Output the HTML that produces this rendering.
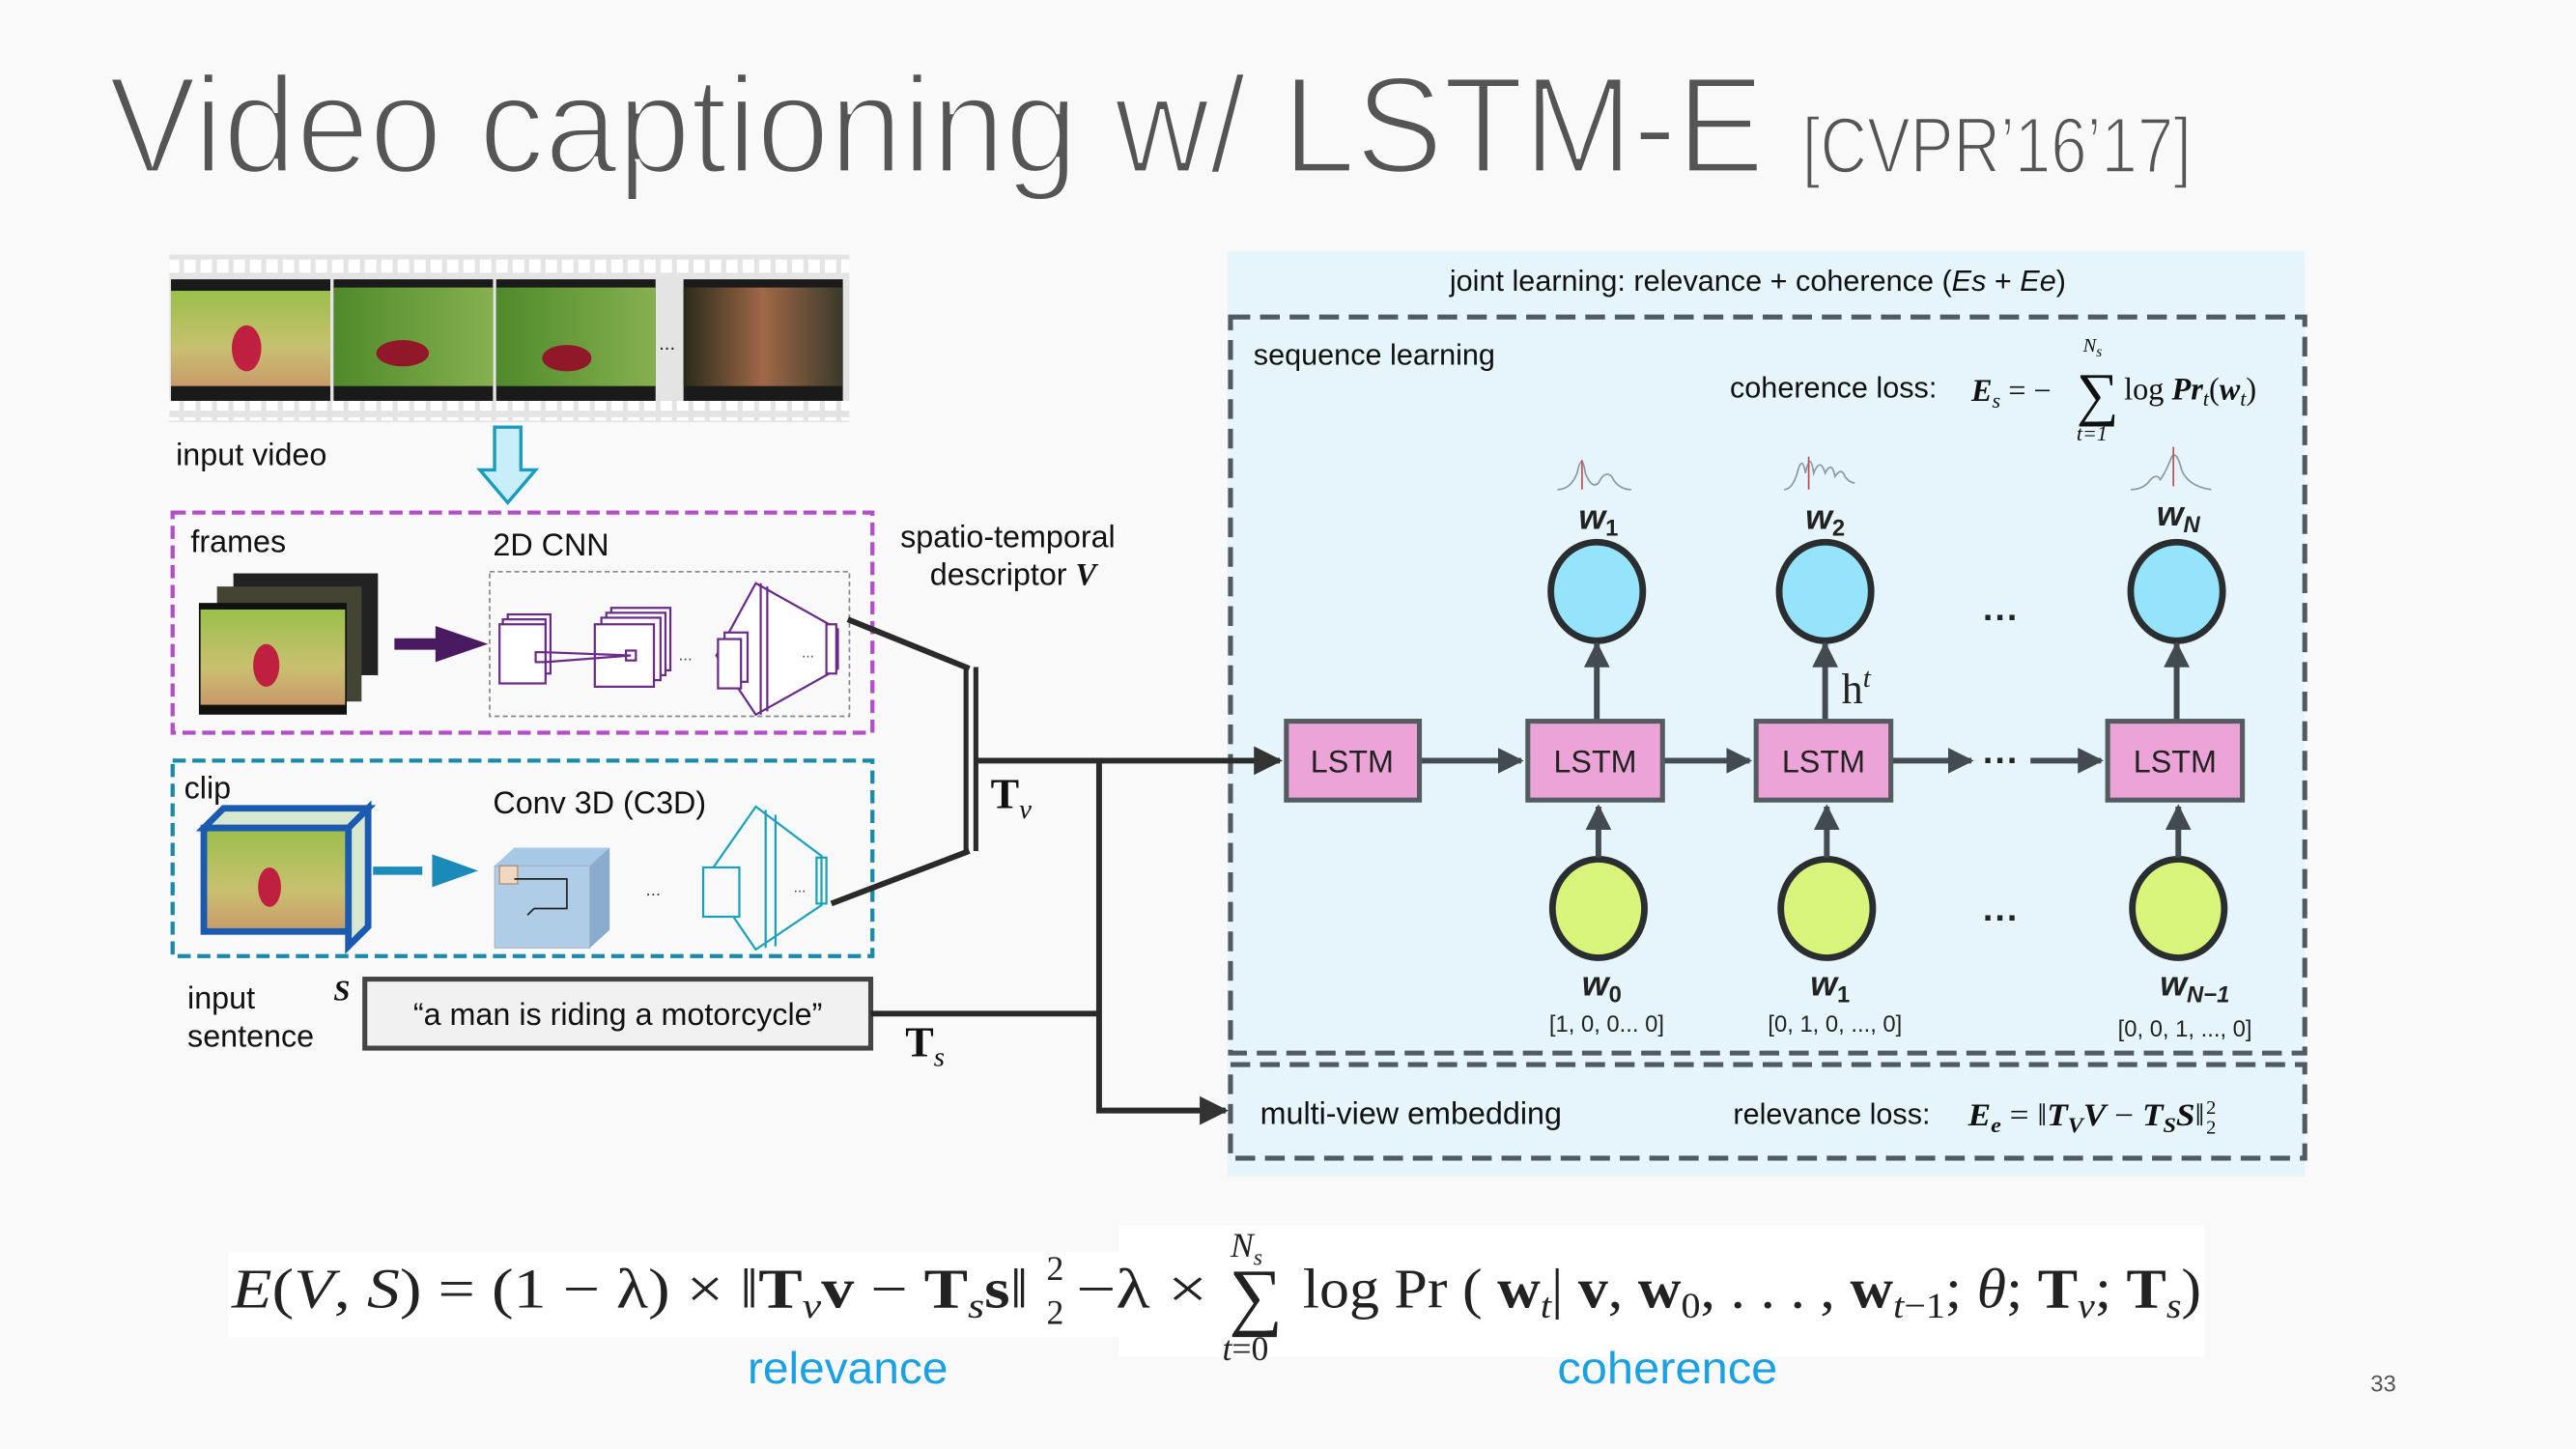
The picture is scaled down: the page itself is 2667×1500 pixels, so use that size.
<!DOCTYPE html>
<html><head><meta charset="utf-8"><style>
html,body{margin:0;padding:0;background:#f9f9f9;}
svg{display:block;}
text{font-family:"Liberation Sans",sans-serif;}
.s{font-family:"Liberation Serif",serif;}
</style></head><body>
<svg width="2667" height="1500" viewBox="0 0 1568 882" xmlns="http://www.w3.org/2000/svg">
<defs>
<linearGradient id="ph" x1="0" y1="0" x2="0" y2="1"><stop offset="0" stop-color="#9bbf4a"/><stop offset="0.6" stop-color="#c8c070"/><stop offset="1" stop-color="#c89a6a"/></linearGradient>
<linearGradient id="ph2" x1="0" y1="0" x2="1" y2="0"><stop offset="0" stop-color="#4f8a2a"/><stop offset="1" stop-color="#86b050"/></linearGradient>
<linearGradient id="face" x1="0" y1="0" x2="1" y2="0"><stop offset="0" stop-color="#2a2a1a"/><stop offset="0.5" stop-color="#a06848"/><stop offset="1" stop-color="#3a3a2a"/></linearGradient>
<marker id="a" viewBox="0 0 10 10" refX="9" refY="5" markerWidth="5" markerHeight="5" orient="auto"><path d="M0,0L10,5L0,10z" fill="#333"/></marker>
<marker id="g" viewBox="0 0 10 10" refX="9" refY="5" markerWidth="4.5" markerHeight="4.5" orient="auto"><path d="M0,0L10,5L0,10z" fill="#444b50"/></marker>
<pattern id="perf" width="10" height="12" patternUnits="userSpaceOnUse"><rect x="2" y="2" width="7" height="8" fill="#fff"/></pattern>
</defs>
<rect width="1568" height="882" fill="#f9f9f9"/>
<text x="66" y="105" font-size="84" fill="#555" stroke="#f9f9f9" stroke-width="2.6" textLength="1008" lengthAdjust="spacingAndGlyphs">Video captioning w/ LSTM-E</text>
<text x="1097" y="105" font-size="48" fill="#555" stroke="#f9f9f9" stroke-width="1.4" textLength="237" lengthAdjust="spacingAndGlyphs">[CVPR’16’17]</text>

<rect x="103" y="155" width="414" height="102" fill="#e4e4e4"/>
<rect x="103" y="156" width="414" height="12" fill="url(#perf)"/>
<rect x="103" y="244" width="414" height="12" fill="url(#perf)"/>
<rect x="104" y="170" width="97" height="74" fill="#1a1a1a"/><rect x="104" y="177" width="97" height="58" fill="url(#ph)"/>
<ellipse cx="150" cy="212" rx="9" ry="14" fill="#c02040"/>
<rect x="203" y="170" width="97" height="74" fill="#1a1a1a"/><rect x="203" y="175" width="97" height="60" fill="url(#ph2)"/>
<ellipse cx="245" cy="215" rx="16" ry="8" fill="#901828"/>
<rect x="302" y="170" width="97" height="74" fill="#1a1a1a"/><rect x="302" y="175" width="97" height="60" fill="url(#ph2)"/>
<ellipse cx="345" cy="218" rx="15" ry="8" fill="#901828"/>
<text x="401" y="213" font-size="12" fill="#222">...</text>
<rect x="416" y="170" width="97" height="74" fill="#1a1a1a"/><rect x="416" y="175" width="97" height="60" fill="url(#face)"/>
<text x="107" y="283" font-size="19" fill="#111">input video</text>
<path d="M301,260h16v26h9l-17,20l-17,-20h9z" fill="#c8eefa" stroke="#1a9bc0" stroke-width="2"/>

<rect x="105" y="312" width="426" height="134" fill="none" stroke="#b44ec8" stroke-width="2.5" stroke-dasharray="8,4"/>
<text x="116" y="336" font-size="19" fill="#111">frames</text>
<text x="300" y="338" font-size="19" fill="#111">2D CNN</text>
<rect x="142" y="349" width="88" height="62" fill="#222"/>
<rect x="132" y="357" width="88" height="70" fill="#443"/>
<rect x="121" y="367" width="90" height="68" fill="#111"/><rect x="122" y="371" width="88" height="58" fill="url(#ph)"/>
<ellipse cx="162" cy="405" rx="8" ry="13" fill="#c02040"/>
<path d="M240,392h28" stroke="#4a1a60" stroke-width="7"/><path d="M265,381l32,11l-32,11z" fill="#4a1a60"/>
<rect x="298" y="348" width="219" height="88" fill="none" stroke="#888" stroke-width="1" stroke-dasharray="3,2"/>
<g fill="#fff" stroke="#6a2a88" stroke-width="1.3">
<rect x="309" y="374" width="26" height="36"/><rect x="306" y="377" width="26" height="36"/><rect x="304" y="380" width="28" height="36"/>
<rect x="326" y="397" width="6" height="6"/>
<rect x="372" y="370" width="36" height="38"/><rect x="369" y="373" width="36" height="38"/><rect x="366" y="376" width="36" height="38"/><rect x="362" y="380" width="36" height="38"/>
<rect x="381" y="396" width="6" height="6"/>
<path d="M332,397L384,399L332,403" fill="none"/>
<path d="M460,355l50,28v24l-50,28l-24,-36z"/><path d="M463,355v80M467,357v76"/>
<rect x="441" y="385" width="14" height="30"/><rect x="437" y="389" width="14" height="30"/>
<rect x="503" y="380" width="6" height="30"/>
</g>
<text x="413" y="402" font-size="10" fill="#444">...</text><text x="488" y="400" font-size="9" fill="#444">...</text>

<rect x="105" y="463" width="426" height="119" fill="none" stroke="#1a8aa8" stroke-width="2.5" stroke-dasharray="8,4"/>
<text x="112" y="486" font-size="19" fill="#111">clip</text>
<text x="300" y="495" font-size="19" fill="#111">Conv 3D (C3D)</text>
<path d="M124,504l12,-12h88l-12,12z M212,504l12,-12v72l-12,12z" fill="#d8e8d0" stroke="#1a5ab0" stroke-width="4"/>
<rect x="124" y="504" width="88" height="63" fill="url(#ph)" stroke="#1a5ab0" stroke-width="4"/>
<ellipse cx="164" cy="540" rx="7" ry="12" fill="#c02040"/>
<path d="M227,530h30" stroke="#1a8ab8" stroke-width="5"/><path d="M263,520l28,10l-28,10z" fill="#1a8ab8"/>
<path d="M301,527l12,-11h58v50l-12,11h-58z" fill="#a8c8e8"/><path d="M359,527l12,-11v50l-12,11z" fill="#8aaace"/>
<rect x="301" y="527" width="58" height="50" fill="#b0cde8" stroke="#9ab" stroke-width="0.5"/>
<rect x="304" y="527" width="11" height="11" fill="#f0d8c0" stroke="#a86" stroke-width="0.7"/>
<path d="M313,535h32v18h-20M325,553l-4,4" fill="none" stroke="#222" stroke-width="1"/>
<text x="393" y="545" font-size="11" fill="#444">...</text>
<g fill="none" stroke="#1aa0b8" stroke-width="1.3">
<path d="M460,491l40,30v30l-40,27l-30,-44z"/><path d="M466,493v84M472,496v80"/>
<rect x="428" y="528" width="22" height="30" fill="#f9f9f9"/><rect x="497" y="522" width="6" height="28"/>
</g>
<text x="483" y="543" font-size="9" fill="#444">...</text>

<text x="548" y="333" font-size="19" fill="#111">spatio-temporal</text>
<text x="566" y="356" font-size="19" fill="#111">descriptor <tspan class="s" font-style="italic" font-weight="bold">V</tspan></text>

<text x="114" y="614" font-size="19" fill="#111">input</text>
<text x="114" y="637" font-size="19" fill="#111">sentence</text>
<text x="203" y="609" font-size="18" fill="#111" class="s" font-style="italic" font-weight="bold">S</text>
<rect x="222" y="596" width="308" height="42" fill="#f1f1f1" stroke="#444" stroke-width="3"/>
<text x="376" y="624" font-size="19" fill="#111" text-anchor="middle">“a man is riding a motorcycle”</text>

<rect x="747" y="153" width="656" height="563" fill="#e6f4fb"/>
<text x="1070" y="177" font-size="18" fill="#111" text-anchor="middle">joint learning: relevance + coherence (<tspan font-style="italic">Es</tspan> + <tspan font-style="italic">Ee</tspan>)</text>
<rect x="749" y="193" width="654" height="448" fill="none" stroke="#505a60" stroke-width="3" stroke-dasharray="12,6"/>
<rect x="749" y="648" width="654" height="57" fill="none" stroke="#505a60" stroke-width="3" stroke-dasharray="12,6"/>
<text x="763" y="222" font-size="18" fill="#111">sequence learning</text>
<text x="1053" y="242" font-size="18" fill="#111">coherence loss:</text>
<text x="1200" y="244" font-size="19" class="s" fill="#111"><tspan font-style="italic" font-weight="bold">E</tspan><tspan font-size="13" font-style="italic" dy="4">s</tspan><tspan dy="-4"> = −</tspan></text>
<text x="1264" y="252" font-size="36" class="s" fill="#111">∑</text>
<text x="1268" y="214" font-size="12" class="s" font-style="italic" fill="#111">N<tspan font-size="9" dy="3">s</tspan></text>
<text x="1264" y="268" font-size="13" class="s" font-style="italic" fill="#111">t=1</text>
<text x="1293" y="243" font-size="19" class="s" fill="#111">log <tspan font-style="italic" font-weight="bold">Pr</tspan><tspan font-size="13" font-style="italic" dy="4">t</tspan><tspan dy="-4">(</tspan><tspan font-style="italic" font-weight="bold">w</tspan><tspan font-size="13" font-style="italic" dy="4">t</tspan><tspan dy="-4">)</tspan></text>

<g fill="none" stroke="#8a9aa0" stroke-width="1">
<path d="M948,298q8,0 12,-10q3,-14 5,0q4,10 8,6q4,-8 8,-4q4,8 12,8"/>
<path d="M1086,298q5,0 8,-10q3,-12 5,0q3,-14 5,0q4,-10 7,0q4,-8 6,2q4,-6 6,0q3,4 6,4"/>
<path d="M1297,298q8,0 12,-6q4,-4 6,0q3,-4 7,-14q3,-4 6,8q4,10 18,12"/>
</g>
<path d="M963,280v18M1101,278v20M1323,272v24" stroke="#c05050" stroke-width="1"/>

<g class="s" font-size="21" font-weight="bold" font-style="italic" fill="#222" text-anchor="middle">
<text x="973" y="322">w<tspan font-size="14" dy="4" font-style="normal">1</tspan></text>
<text x="1111" y="322">w<tspan font-size="14" dy="4" font-style="normal">2</tspan></text>
<text x="1326" y="320">w<tspan font-size="14" dy="4">N</tspan></text>
<text x="975" y="606">w<tspan font-size="14" dy="4" font-style="normal">0</tspan></text>
<text x="1114" y="606">w<tspan font-size="14" dy="4" font-style="normal">1</tspan></text>
<text x="1336" y="606">w<tspan font-size="14" dy="4">N−1</tspan></text>
</g>
<g font-size="14" fill="#222" text-anchor="middle">
<text x="978" y="628">[1, 0, 0... 0]</text><text x="1117" y="628">[0, 1, 0, ..., 0]</text><text x="1330" y="631">[0, 0, 1, ..., 0]</text>
</g>

<g stroke="#2a2e30" stroke-width="4">
<ellipse cx="972" cy="360" rx="28" ry="30" fill="#96e4fc"/>
<ellipse cx="1111" cy="360" rx="28" ry="30" fill="#96e4fc"/>
<ellipse cx="1325" cy="360" rx="28" ry="30" fill="#96e4fc"/>
<ellipse cx="973" cy="553" rx="28" ry="30" fill="#d8f47a"/>
<ellipse cx="1112" cy="553" rx="28" ry="30" fill="#d8f47a"/>
<ellipse cx="1326" cy="553" rx="28" ry="30" fill="#d8f47a"/>
</g>
<g stroke="#444b50" stroke-width="3.5" fill="none" marker-end="url(#g)">
<path d="M864,463H926"/><path d="M1012,463H1065"/><path d="M1151,463H1200"/><path d="M1236,463H1279"/>
<path d="M972,439V392"/><path d="M1111,439V392"/><path d="M1325,439V392"/>
<path d="M973,522V491"/><path d="M1112,522V491"/><path d="M1326,522V491"/>
</g>
<text x="1218" y="470" font-size="22" font-weight="bold" fill="#222" text-anchor="middle">···</text>
<text x="1218" y="383" font-size="22" font-weight="bold" fill="#222" text-anchor="middle">···</text>
<text x="1218" y="566" font-size="22" font-weight="bold" fill="#222" text-anchor="middle">···</text>
<text x="1121" y="428" font-size="26" class="s" fill="#222">h<tspan font-size="17" font-style="italic" dy="-10">t</tspan></text>
<g stroke="#555c60" stroke-width="3" fill="#eca4d8">
<rect x="783" y="439" width="81" height="48"/><rect x="930" y="439" width="82" height="48"/>
<rect x="1069" y="439" width="82" height="48"/><rect x="1283" y="439" width="82" height="48"/>
</g>
<g font-size="19" fill="#222" text-anchor="middle">
<text x="823" y="470">LSTM</text><text x="971" y="470">LSTM</text><text x="1110" y="470">LSTM</text><text x="1324" y="470">LSTM</text>
</g>
<text x="767" y="684" font-size="19" fill="#111">multi-view embedding</text>
<text x="1055" y="684" font-size="18" fill="#111">relevance loss:</text>
<text x="1198" y="685" font-size="19" class="s" fill="#111" font-style="italic" font-weight="bold" textLength="144" lengthAdjust="spacingAndGlyphs">E<tspan font-size="13" dy="4">e</tspan><tspan dy="-4" font-style="normal" font-weight="normal"> = ‖</tspan>T<tspan font-size="13" dy="4">V</tspan><tspan dy="-4">V</tspan><tspan font-weight="normal" font-style="normal"> − </tspan>T<tspan font-size="13" dy="4">S</tspan><tspan dy="-4">S</tspan><tspan font-weight="normal" font-style="normal">‖</tspan></text>
<text x="1343" y="678" font-size="12" class="s" fill="#111">2</text><text x="1343" y="690" font-size="12" class="s" fill="#111">2</text>

<g stroke="#2a2a2a" stroke-width="3.5" fill="none">
<path d="M516,377L590,407"/><path d="M506,550L590,518"/>
<path d="M588,406V518M594,406V518" stroke-width="3"/>
<path d="M594,463H779" marker-end="url(#a)"/>
<path d="M669,463V676H746" marker-end="url(#a)"/>
<path d="M530,617H669"/>
</g>
<text x="603" y="492" font-size="26" class="s" font-weight="bold" fill="#111">T<tspan font-size="17" font-weight="normal" font-style="italic" dy="6">v</tspan></text>
<text x="551" y="643" font-size="26" class="s" font-weight="bold" fill="#111">T<tspan font-size="17" font-weight="normal" font-style="italic" dy="6">s</tspan></text>

<rect x="139" y="762" width="544" height="52" fill="#fff"/>
<rect x="681" y="746" width="661" height="80" fill="#fff"/>
<text x="141" y="796" font-size="34" class="s" fill="#222" textLength="485" lengthAdjust="spacingAndGlyphs"><tspan font-style="italic">E</tspan>(<tspan font-style="italic">V</tspan>, <tspan font-style="italic">S</tspan>) = (1 − λ) × ‖<tspan font-weight="bold">T</tspan><tspan font-size="22" font-style="italic" dy="6">v</tspan><tspan dy="-6" font-weight="bold">v</tspan> − <tspan font-weight="bold">T</tspan><tspan font-size="22" font-style="italic" dy="6">s</tspan><tspan dy="-6" font-weight="bold">s</tspan>‖</text>
<text x="637" y="779" font-size="21" class="s" fill="#222">2</text><text x="637" y="806" font-size="21" class="s" fill="#222">2</text>
<text x="655" y="796" font-size="34" class="s" fill="#222" textLength="80" lengthAdjust="spacingAndGlyphs">−λ ×</text>
<text x="748" y="804" font-size="46" class="s" fill="#222">∑</text>
<text x="749" y="765" font-size="21" class="s" font-style="italic" fill="#222">N<tspan font-size="14" dy="5">s</tspan></text>
<text x="744" y="828" font-size="21" class="s" fill="#222"><tspan font-style="italic">t</tspan>=0</text>
<text x="793" y="796" font-size="34" class="s" fill="#222" textLength="547" lengthAdjust="spacingAndGlyphs">log Pr ( <tspan font-weight="bold">w</tspan><tspan font-size="22" font-style="italic" dy="6">t</tspan><tspan dy="-6">| </tspan><tspan font-weight="bold">v</tspan>, <tspan font-weight="bold">w</tspan><tspan font-size="22" dy="6">0</tspan><tspan dy="-6">, . . . , </tspan><tspan font-weight="bold">w</tspan><tspan font-size="22" font-style="italic" dy="6">t</tspan><tspan font-size="22" dy="0">−1</tspan><tspan dy="-6">; </tspan><tspan font-style="italic">θ</tspan>; <tspan font-weight="bold">T</tspan><tspan font-size="22" font-style="italic" dy="6">v</tspan><tspan dy="-6">; </tspan><tspan font-weight="bold">T</tspan><tspan font-size="22" font-style="italic" dy="6">s</tspan><tspan dy="-6">)</tspan></text>
<text x="455" y="842" font-size="27" fill="#1ba1e2" textLength="122" lengthAdjust="spacingAndGlyphs">relevance</text>
<text x="948" y="842" font-size="27" fill="#1ba1e2" textLength="134" lengthAdjust="spacingAndGlyphs">coherence</text>
<text x="1443" y="847" font-size="14" fill="#555">33</text>
</svg>
</body></html>
